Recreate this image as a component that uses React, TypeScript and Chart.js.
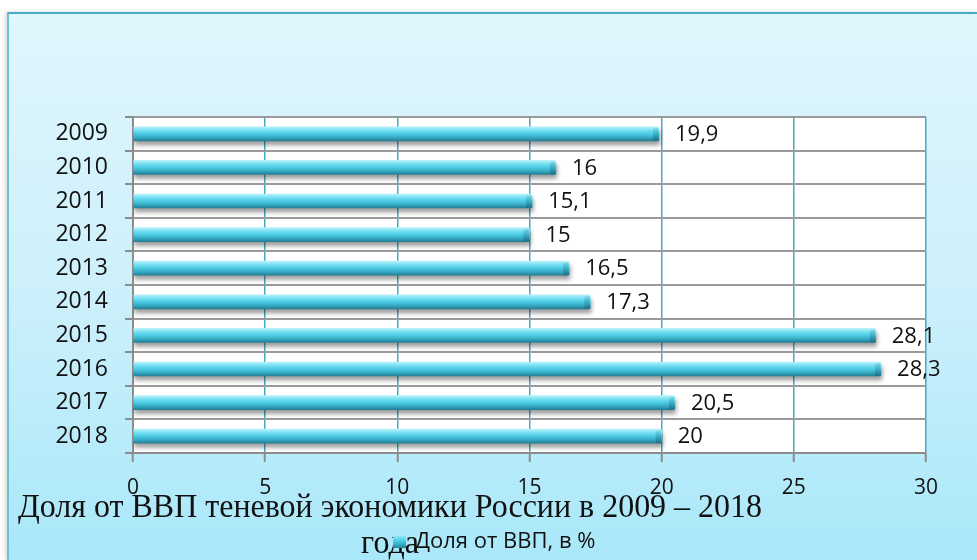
import React, { useEffect, useRef } from "react";
import { Chart, registerables } from "chart.js";

Chart.register(...registerables);

const years = ["2009", "2010", "2011", "2012", "2013", "2014", "2015", "2016", "2017", "2018"];
const shares = [19.9, 16, 15.1, 15, 16.5, 17.3, 28.1, 28.3, 20.5, 20];
const xMin = 0;
const xMax = 30;
const xStep = 5;
const seriesLabel = "Доля от ВВП, в %";
const titleLines = ["Доля от ВВП теневой экономики России в 2009 – 2018", "года"];

const SANS = '"Open Sans", "Noto Sans", sans-serif';
const SERIF = '"Liberation Serif", "DejaVu Serif", serif';

function barGradient(ctx: CanvasRenderingContext2D, top: number, bottom: number) {
  const g = ctx.createLinearGradient(0, top, 0, bottom);
  g.addColorStop(0, "#b9f2fb");
  g.addColorStop(0.18, "#86e4f4");
  g.addColorStop(0.45, "#52d0e7");
  g.addColorStop(0.7, "#3bb3cc");
  g.addColorStop(1, "#237f97");
  return g;
}

const decorPlugin = {
  id: "decor",
  beforeDatasetsDraw(chart: any) {
    const ctx = chart.ctx;
    ctx.save();
    ctx.shadowColor = "rgba(0,0,0,0.38)";
    ctx.shadowOffsetX = 1;
    ctx.shadowOffsetY = 4;
    ctx.shadowBlur = 4;
  },
  afterDatasetsDraw(chart: any) {
    const ctx = chart.ctx;
    ctx.restore();
    const meta = chart.getDatasetMeta(0);
    ctx.save();
    meta.data.forEach((bar: any) => {
      const h = 14;
      const g = ctx.createLinearGradient(0, bar.y - h / 2, 0, bar.y + h / 2);
      g.addColorStop(0, "rgba(40,130,150,0.15)");
      g.addColorStop(1, "rgba(20,90,110,0.45)");
      ctx.fillStyle = g;
      ctx.beginPath();
      ctx.moveTo(bar.x - 6, bar.y - h / 2 + 2);
      ctx.lineTo(bar.x - 1, bar.y - h / 2 + 1);
      ctx.lineTo(bar.x, bar.y + h / 2);
      ctx.lineTo(bar.x - 6, bar.y + h / 2);
      ctx.closePath();
      ctx.fill();
    });
    ctx.font = `22px ${SANS}`;
    ctx.fillStyle = "#111";
    ctx.textBaseline = "middle";
    ctx.textAlign = "left";
    meta.data.forEach((bar: any, i: number) => {
      const txt = String(shares[i]).replace(".", ",");
      ctx.fillText(txt, bar.x + 16, bar.y + 1);
    });
    ctx.restore();
  },
  afterDraw(chart: any) {
    const ctx = chart.ctx;
    ctx.save();
    ctx.font = `33px ${SERIF}`;
    ctx.fillStyle = "#111";
    ctx.textBaseline = "alphabetic";
    const w1 = ctx.measureText(titleLines[0]).width;
    const targetW = 744;
    const sx = targetW / w1;
    const left = 18;
    const center = left + targetW / 2;
    ctx.save();
    ctx.translate(left, 517);
    ctx.scale(sx, 1);
    ctx.textAlign = "left";
    ctx.fillText(titleLines[0], 0, 0);
    ctx.restore();
    ctx.save();
    ctx.translate(center, 553);
    ctx.scale(sx, 1);
    ctx.textAlign = "center";
    ctx.fillText(titleLines[1], 0, 0);
    ctx.restore();
    const bx = 393, by = 534, bw = 13, bh = 14;
    ctx.fillStyle = barGradient(ctx, by, by + bh);
    ctx.fillRect(bx, by, bw, bh);
    ctx.font = `22px ${SANS}`;
    ctx.fillStyle = "#111";
    ctx.textAlign = "left";
    ctx.fillText(seriesLabel, 415, 548);
    ctx.restore();
  },
};

export default function App() {
  const ref = useRef<HTMLCanvasElement | null>(null);

  useEffect(() => {
    if (!ref.current) return;
    const chart = new Chart(ref.current, {
      type: "bar",
      data: {
        labels: years,
        datasets: [
          {
            label: seriesLabel,
            data: shares,
            barThickness: 14,
            backgroundColor: (c: any) => {
              const ch = c.chart;
              const ys = ch.scales && ch.scales.y;
              if (!ys || c.dataIndex == null) return "#4fcfe6";
              const mid = ys.getPixelForValue(c.dataIndex);
              if (!isFinite(mid)) return "#4fcfe6";
              return barGradient(ch.ctx, mid - 7, mid + 7);
            },
            borderWidth: 0,
            borderRadius: { topRight: 2, bottomRight: 2, topLeft: 0, bottomLeft: 0 },
            borderSkipped: false,
          } as any,
        ],
      },
      options: {
        indexAxis: "y",
        responsive: false,
        animation: false,
        layout: { padding: { left: 0, top: 117, right: 51, bottom: 0 } },
        plugins: {
          legend: { display: false },
          title: { display: false },
          tooltip: { enabled: false },
        },
        scales: {
          x: {
            type: "linear",
            min: xMin,
            max: xMax,
            afterFit: (s: any) => {
              s.height = 107;
            },
            ticks: {
              stepSize: xStep,
              color: "#111",
              font: { family: SANS, size: 21 },
              padding: 13,
            },
            grid: {
              color: (c: any) => (c.tick && c.tick.value === 0 ? "#8c8c8c" : "#45a9c3"),
              lineWidth: 1.5,
              tickLength: 9,
              tickColor: "#8c8c8c",
              tickWidth: 2,
            },
            border: { color: "#8c8c8c", width: 2 },
          },
          y: {
            type: "category",
            afterFit: (s: any) => {
              s.width = 133;
            },
            ticks: {
              color: "#111",
              font: { family: SANS, size: 23 },
              padding: 17,
            },
            grid: {
              offset: true,
              color: "#9a9a9a",
              lineWidth: 2,
              tickLength: 8,
              tickColor: "#8c8c8c",
            },
            border: { color: "#8c8c8c", width: 2 },
          },
        },
      } as any,
      plugins: [
        {
          id: "plotBg",
          beforeDraw(chart: any) {
            const a = chart.chartArea;
            const ctx = chart.ctx;
            ctx.save();
            ctx.fillStyle = "#ffffff";
            ctx.fillRect(a.left, a.top, a.right - a.left, a.bottom - a.top);
            ctx.restore();
          },
        },
        decorPlugin,
      ],
    });
    return () => chart.destroy();
  }, []);

  return (
    <div style={{ position: "fixed", left: 0, top: 0, width: 977, height: 560, background: "#ffffff", overflow: "hidden" }}>
      <div
        style={{
          position: "absolute",
          left: 7,
          top: 12,
          width: 970,
          height: 548,
          boxSizing: "border-box",
          borderTop: "2px solid #49acc6",
          borderLeft: "2px solid #6cc0d6",
          background: "linear-gradient(180deg, #e0f6fd 0%, #cdf0fb 50%, #a9e8f9 100%)",
          boxShadow: "-2px 0 4px rgba(0,0,0,0.15)",
        }}
      />
      <canvas ref={ref} width={977} height={560} style={{ position: "absolute", left: 0, top: 0 }} />
    </div>
  );
}
